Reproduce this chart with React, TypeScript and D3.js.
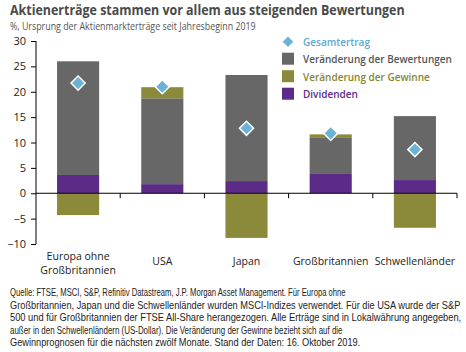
import React, { useEffect, useRef } from 'react';
import * as d3 from 'd3';

// categories and series values (% since start of 2019)
const categories = ['Europa ohne Großbritannien', 'USA', 'Japan', 'Großbritannien', 'Schwellenländer'];
const categoryLines = [['Europa ohne', 'Großbritannien'], ['USA'], ['Japan'], ['Großbritannien'], ['Schwellenländer']];
const dividends = [3.6, 1.8, 2.4, 3.8, 2.6];
const valuations = [22.4, 16.9, 20.9, 7.1, 12.6];
const earnings = [-4.3, 2.2, -8.8, 0.7, -6.8];
const totals = [21.7, 21.0, 12.8, 11.8, 8.6];
const yTicks = [-10, -5, 0, 5, 10, 15, 20, 25, 30];

const legendItems = [
    { label: 'Gesamtertrag', type: 'diamond', color: '#6bb3d6', text: '#5aaad3', width: 67 },
    { label: 'Veränderung der Bewertungen', type: 'rect', color: '#676767', text: '#555555', width: 149 },
    { label: 'Veränderung der Gewinne', type: 'rect', color: '#8b8a3a', text: '#86852f', width: 127 },
    { label: 'Dividenden', type: 'rect', color: '#5b2b87', text: '#5b2b87', width: 55 },
];

const footnote = [
    'Quelle: FTSE, MSCI, S&P, Refinitiv Datastream, J.P. Morgan Asset Management. Für Europa ohne',
    'Großbritannien, Japan und die Schwellenländer wurden MSCI-Indizes verwendet. Für die USA wurde der S&P',
    '500 und für Großbritannien der FTSE All-Share herangezogen. Alle Erträge sind in Lokalwährung angegeben,',
    'außer in den Schwellenländern (US-Dollar). Die Veränderung der Gewinne bezieht sich auf die',
    'Gewinnprognosen für die nächsten zwölf Monate. Stand der Daten: 16. Oktober 2019.',
];
const footnoteWidths = [336, 451, 452, 333, 351];

const W = 466;
const H = 352;
const FONT = "'Open Sans', sans-serif";
const NOTE_FONT = "'Liberation Sans', Arial, sans-serif";

// squeeze a text node horizontally so it spans the given width
const squeeze = (node: any, xPos: number, yPos: number, width: number) => {
    const len = node.node().getComputedTextLength();
    const k = len > 0 ? width / len : 1;
    node.attr('x', 0).attr('y', 0)
        .attr('transform', `translate(${xPos},${yPos}) scale(${k},1)`);
};

const App = () => {
    const ref = useRef<SVGSVGElement>(null);

    useEffect(() => {
        const svg = d3.select(ref.current);
        svg.selectAll('*').remove();

        const x = d3.scaleBand<string>()
            .domain(categories)
            .range([36, 457])
            .paddingInner(0.5)
            .paddingOuter(0.25);
        const y = d3.scaleLinear().domain([-10, 30]).range([244, 41]);

        // title + subtitle
        const title = svg.append('text')
            .attr('font-family', FONT).attr('font-weight', 700).attr('font-size', 14)
            .attr('fill', '#4a4a4a')
            .text('Aktienerträge stammen vor allem aus steigenden Bewertungen');
        squeeze(title, 10, 15, 395);
        const subtitle = svg.append('text')
            .attr('font-family', FONT).attr('font-size', 10.5)
            .attr('fill', '#555555')
            .text('%, Ursprung der Aktienmarkterträge seit Jahresbeginn 2019');
        squeeze(subtitle, 10, 29.5, 246);

        // bars
        const bars = svg.append('g');
        categories.forEach((c, i) => {
            const bx = x(c) as number;
            const bw = x.bandwidth();
            const d = dividends[i];
            const v = valuations[i];
            const e = earnings[i];
            bars.append('rect')
                .attr('x', bx).attr('width', bw)
                .attr('y', y(d)).attr('height', y(0) - y(d))
                .attr('fill', '#5b2b87');
            bars.append('rect')
                .attr('x', bx).attr('width', bw)
                .attr('y', y(d + v)).attr('height', y(d) - y(d + v))
                .attr('fill', '#676767');
            if (e >= 0) {
                bars.append('rect')
                    .attr('x', bx).attr('width', bw)
                    .attr('y', y(d + v + e)).attr('height', y(d + v) - y(d + v + e))
                    .attr('fill', '#8b8a3a');
            } else {
                bars.append('rect')
                    .attr('x', bx).attr('width', bw)
                    .attr('y', y(0)).attr('height', y(e) - y(0))
                    .attr('fill', '#8b8a3a');
            }
        });

        // y axis
        const yAxis = d3.axisLeft(y).tickValues(yTicks).tickSize(5).tickPadding(5);
        const yg = svg.append('g')
            .attr('transform', 'translate(36,0)')
            .call(yAxis);
        yg.select('.domain').attr('stroke', '#000').attr('d', `M0,${y(30)}V${y(-10)}`);
        yg.selectAll('line').attr('stroke', '#000');
        yg.selectAll('text')
            .attr('font-family', FONT).attr('font-size', 11).attr('fill', '#222');

        // zero line with category separators
        const step = x.step();
        const zg = svg.append('g');
        zg.append('line')
            .attr('x1', 36).attr('x2', 457)
            .attr('y1', y(0)).attr('y2', y(0))
            .attr('stroke', '#000');
        d3.range(1, categories.length + 1).forEach((k) => {
            zg.append('line')
                .attr('x1', 36 + k * step).attr('x2', 36 + k * step)
                .attr('y1', y(0)).attr('y2', y(0) + 5)
                .attr('stroke', '#000');
        });

        // category labels
        categories.forEach((c, i) => {
            const cx = (x(c) as number) + x.bandwidth() / 2;
            const lines = categoryLines[i];
            const t = svg.append('text')
                .attr('text-anchor', 'middle')
                .attr('font-family', FONT).attr('font-size', 10.5)
                .attr('fill', '#222');
            lines.forEach((l, j) => {
                t.append('tspan')
                    .attr('x', cx)
                    .attr('y', (lines.length === 1 ? 265 : 260) + j * 13.5)
                    .text(l);
            });
        });

        // total markers
        categories.forEach((c, i) => {
            const cx = (x(c) as number) + x.bandwidth() / 2;
            svg.append('path')
                .attr('d', d3.symbol(d3.symbolSquare, 100)())
                .attr('transform', `translate(${cx},${y(totals[i])}) rotate(45)`)
                .attr('fill', '#6bb3d6')
                .attr('stroke', '#fff')
                .attr('stroke-width', 1.5);
        });

        // legend
        const lg = svg.append('g');
        legendItems.forEach((item, i) => {
            const ly = 41.7 + i * 17.5;
            if (item.type === 'diamond') {
                lg.append('path')
                    .attr('d', d3.symbol(d3.symbolSquare, 56)())
                    .attr('transform', `translate(288,${ly}) rotate(45)`)
                    .attr('fill', item.color);
            } else {
                lg.append('rect')
                    .attr('x', 282).attr('y', ly - 6.5)
                    .attr('width', 12).attr('height', 12)
                    .attr('fill', item.color);
            }
            const t = lg.append('text')
                .attr('font-family', FONT).attr('font-size', 11).attr('font-weight', 600)
                .attr('fill', item.text)
                .text(item.label);
            squeeze(t, 303, ly + 4, item.width);
        });

        // footnote
        footnote.forEach((line, i) => {
            const t = svg.append('text')
                .attr('font-family', NOTE_FONT).attr('font-size', 10.5)
                .attr('fill', '#222')
                .text(line);
            squeeze(t, 10, 296 + i * 12.6, footnoteWidths[i]);
        });
    }, []);

    return (
        <svg
            ref={ref}
            width={W}
            height={H}
            style={{ position: 'absolute', left: 0, top: 0, background: '#fff' }}
        />
    );
};

export default App;
